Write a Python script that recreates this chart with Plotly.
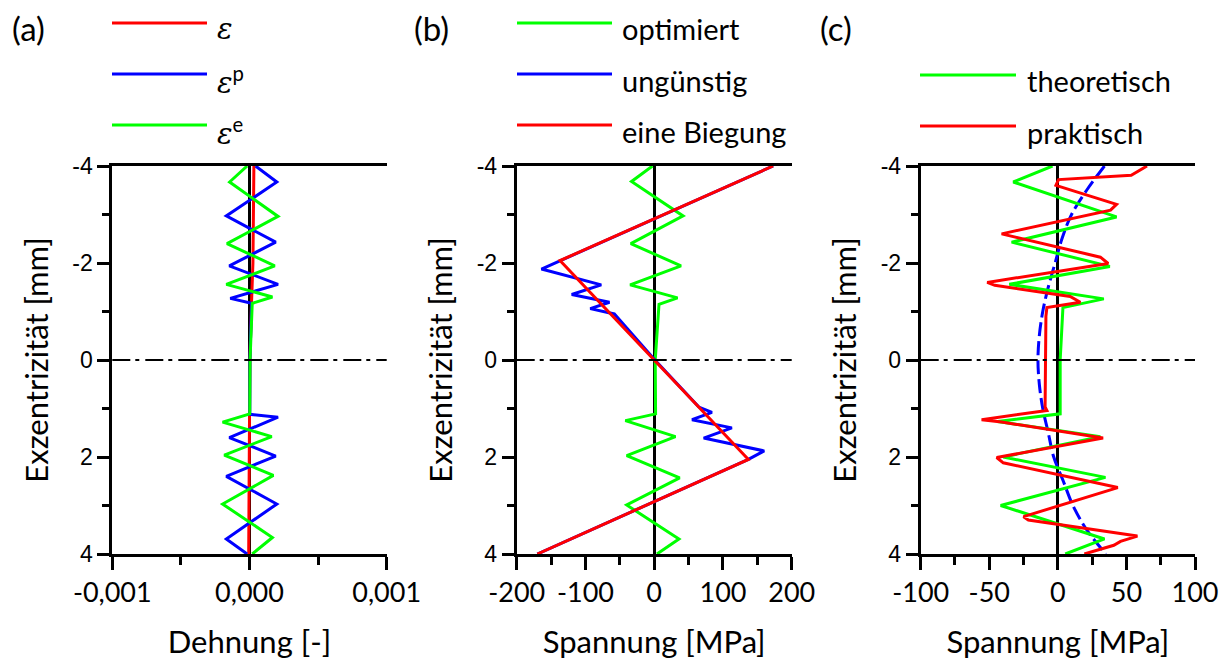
import plotly.graph_objects as go

# ---------------- data ----------------
# Panel (a): Dehnung vs Exzentrizität
a_eps_y = [-4, -2, -1.2, 0, 1.2, 2, 4]
a_eps_x = [3.2e-5, 2.5e-5, 1.5e-5, 3e-6, 0, -2e-6, -6e-6]
a_epsp_y = [-4, -3.67, -2.97, -2.43, -1.94, -1.56, -1.27, -1.17, 0, 1.12, 1.18, 1.6, 1.98, 2.40, 2.97, 3.69, 4]
a_epsp_x = [4.4e-5, 1.99e-4, -1.69e-4, 1.91e-4, -1.47e-4, 2.08e-4, -1.4e-4, 1.5e-5, 3e-6, 2e-6,
            2.08e-4, -1.47e-4, 1.91e-4, -1.69e-4, 1.99e-4, -1.69e-4, -1.7e-5]
a_epse_y = [-4, -3.67, -2.96, -2.40, -1.94, -1.56, -1.30, -1.17, 0, 1.11, 1.28, 1.58, 1.96, 2.38, 2.97, 3.66, 4]
a_epse_x = [-1.7e-5, -1.45e-4, 2.08e-4, -1.64e-4, 1.84e-4, -1.69e-4, 1.67e-4, 2e-5, 4e-6, 2e-6,
            -1.96e-4, 1.62e-4, -1.84e-4, 1.74e-4, -1.96e-4, 1.67e-4, 2e-5]

# Panel (b): Spannung
b_opt_y = [-4, -3.68, -2.97, -2.40, -1.94, -1.55, -1.28, -1.15, 0, 1.11, 1.25, 1.58, 1.97, 2.43, 2.99, 3.69, 4]
b_opt_x = [-2.5, -33, 42, -34, 39, -35, 34, 7, 1.5, 2, -42, 31, -40, 37, -40, 36, 4]
b_ung_y = [-4, -2.05, -1.875, -1.55, -1.35, -1.19, -1.06, -0.95, 0, 0.97, 1.08, 1.23, 1.40, 1.61, 1.875, 2.05, 4]
b_ung_x = [173, -137, -164, -77, -120, -65, -93, -58, 1, 65, 84, 55, 113, 72, 160, 137, -170]
b_bieg_y = [-4, -2.05, 2.05, 4]
b_bieg_x = [173, -137, 137, -170]

# Panel (c): Spannung theoretisch / praktisch
c_theo_y = [-4, -3.67, -2.95, -2.43, -1.93, -1.56, -1.26, -1.08, 0, 1.11, 1.27, 1.58, 2.0, 2.42, 3.0, 3.69, 4]
c_theo_x = [-3.9, -32.5, 42.8, -33.7, 37.9, -35.4, 33.5, 3.7, 1.7, 1.7, -44, 31, -39.8, 34.7, -41.7, 34, 5.4]
c_prak_y = [-4, -3.81, -3.72, -3.6, -3.21, -3.09, -2.60, -2.12, -1.99, -1.60, -1.54, -1.31, -1.19, -1.08, -0.9,
            0, 0.97, 1.04, 1.23, 1.28, 1.61, 2.01, 2.12, 2.63, 3.23, 3.30, 3.63, 3.74, 3.82, 4]
c_prak_x = [65, 53.5, 0.5, -1.4, 42.8, 38.4, -41, 31, 36.7, -51.5, -46, 9, 16.4, -8, -8.7,
            -9, -9.3, -8, -55.6, -41, 33, -44.6, -39.8, 43.7, -25, -21.5, 58, 45.7, 40.8, 19.3]
c_fit_y = [-4, -3.5, -3, -2.5, -2, -1.5, -1, -0.5, 0, 0.5, 1, 1.5, 2, 2.5, 3, 3.5, 4]
c_fit_x = [34, 21, 10, 3, -2, -7, -11, -13.5, -14.5, -13.5, -11, -7, -3, 4, 11, 21, 35]

# tick definitions
y_tickvals = [-4, -2, 0, 2, 4]
y_ticktext = ["-4", "-2", "0", "2", "4"]
y_minor = [-3, -1, 1, 3]
a_tickvals = [-0.001, 0, 0.001]
a_ticktext = ["-0,001", "0,000", "0,001"]
a_minor = [-0.0005, 0.0005]
b_tickvals = [-200, -100, 0, 100, 200]
b_ticktext = ["-200", "-100", "0", "100", "200"]
b_minor = [-150, -50, 50, 150]
c_tickvals = [-100, -50, 0, 50, 100]
c_ticktext = ["-100", "-50", "0", "50", "100"]
c_minor = [-75, -25, 25, 75]

panel_labels = ["(a)", "(b)", "(c)"]
legend_a = ["<i>ε</i>",
            "<i>ε</i><sup><span style='font-family:Lato'>p</span></sup>",
            "<i>ε</i><sup><span style='font-family:Lato'>e</span></sup>"]
legend_b = ["optimiert", "ungünstig", "eine Biegung"]
legend_c = ["theoretisch", "praktisch"]

RED, BLUE, GREEN = "#ff0000", "#0000ff", "#00ff00"
TXT = "Lato"
W, H = 1226, 661
BOT = 107
PH = H - BOT  # plot-area height in px


def px_x(px):
    return px / W


def px_y(py):
    return (PH - py) / PH


fig = go.Figure()
LW = 3


def add(x, y, color, xa, ya, name, dash=None, shape="linear"):
    fig.add_trace(go.Scatter(x=x, y=y, mode="lines", name=name, showlegend=False,
                             line=dict(color=color, width=LW, dash=dash, shape=shape),
                             xaxis=xa, yaxis=ya))


add(a_eps_x, a_eps_y, RED, "x", "y", "ε")
add(a_epsp_x, a_epsp_y, BLUE, "x", "y", "εp")
add(a_epse_x, a_epse_y, GREEN, "x", "y", "εe")

add(b_opt_x, b_opt_y, GREEN, "x2", "y2", "optimiert")
add(b_ung_x, b_ung_y, BLUE, "x2", "y2", "ungünstig")
add(b_bieg_x, b_bieg_y, RED, "x2", "y2", "eine Biegung")

add(c_fit_x, c_fit_y, BLUE, "x3", "y3", "Fit", dash="14px,5px", shape="spline")
add(c_theo_x, c_theo_y, GREEN, "x3", "y3", "theoretisch")
add(c_prak_x, c_prak_y, RED, "x3", "y3", "praktisch")

ydom = [0, px_y(166)]
x_domains = [(112.3, 386.7), (516.7, 791.7), (920.7, 1195)]
x_ranges = [[-0.001, 0.001], [-200, 200], [-100, 100]]
x_ticks = [(a_tickvals, a_ticktext, a_minor), (b_tickvals, b_ticktext, b_minor),
           (c_tickvals, c_ticktext, c_minor)]
x_titles = ["Dehnung [-]", "Spannung [MPa]", "Spannung [MPa]"]

layout = dict(
    width=W, height=H, margin=dict(l=0, r=0, t=0, b=BOT),
    paper_bgcolor="white", plot_bgcolor="white", showlegend=False,
)
for i in range(3):
    sx = "" if i == 0 else str(i + 1)
    tv, tt, mv = x_ticks[i]
    layout["xaxis" + sx] = dict(
        domain=[px_x(x_domains[i][0]), px_x(x_domains[i][1])], anchor="y" + sx,
        range=x_ranges[i], showline=True, linecolor="black", linewidth=3, mirror=True,
        ticks="outside", ticklen=13, tickwidth=3, tickcolor="black",
        tickvals=tv, ticktext=tt,
        minor=dict(tickvals=mv, ticks="outside", ticklen=8, tickwidth=3, tickcolor="black"),
        tickfont=dict(family=TXT, size=27, color="black"),
        showgrid=False, zeroline=True, zerolinecolor="black", zerolinewidth=3,
        title=dict(text=x_titles[i], font=dict(family=TXT, size=31, color="black"), standoff=24),
        automargin=False,
    )
    layout["yaxis" + sx] = dict(
        domain=ydom, anchor="x" + sx, range=[4, -4],
        showline=True, linecolor="black", linewidth=3, mirror=False,
        ticks="outside", ticklen=12, tickwidth=3, tickcolor="black",
        tickvals=y_tickvals, ticktext=y_ticktext,
        minor=dict(tickvals=y_minor, ticks="outside", ticklen=7, tickwidth=3, tickcolor="black"),
        tickfont=dict(family="Liberation Sans", size=23, color="black"),
        showgrid=False, zeroline=False,
        title=dict(text="Exzentrizität [mm]", font=dict(family=TXT, size=31, color="black"), standoff=15),
        automargin=False,
    )
fig.update_layout(**layout)

# dash-dot line at y = 0 in every panel
shapes = []
for i in range(3):
    sx = "" if i == 0 else str(i + 1)
    shapes.append(dict(type="line", xref=("x" + sx) + " domain", yref="y" + sx,
                       x0=0, x1=1, y0=0, y1=0,
                       line=dict(color="black", width=2, dash="18px,5px,4px,6px")))

annotations = []
# panel labels
for lab, xpx in zip(panel_labels, [10, 412, 818]):
    annotations.append(dict(text=lab, xref="paper", yref="paper", x=px_x(xpx), y=px_y(28),
                            xanchor="left", yanchor="middle", showarrow=False,
                            font=dict(family=TXT, size=33, color="black")))


def legend_block(labels, colors, x0, x1, ys, tx, family=TXT, size=29):
    for lab, col, yy in zip(labels, colors, ys):
        shapes.append(dict(type="line", xref="paper", yref="paper",
                           x0=px_x(x0), x1=px_x(x1), y0=px_y(yy), y1=px_y(yy),
                           line=dict(color=col, width=LW)))
        annotations.append(dict(text=lab, xref="paper", yref="paper", x=px_x(tx), y=px_y(yy + 6),
                                xanchor="left", yanchor="middle", showarrow=False,
                                font=dict(family=family, size=size, color="black")))


legend_block(legend_a, [RED, BLUE, GREEN], 112, 207, [23, 74, 125], 215,
             family="DejaVu Serif", size=29)
legend_block(legend_b, [GREEN, BLUE, RED], 517, 612, [23, 74, 125], 620)
legend_block(legend_c, [GREEN, RED], 920, 1016, [75, 126], 1025)

fig.update_layout(shapes=shapes, annotations=annotations)
fig.write_html("out.html")
